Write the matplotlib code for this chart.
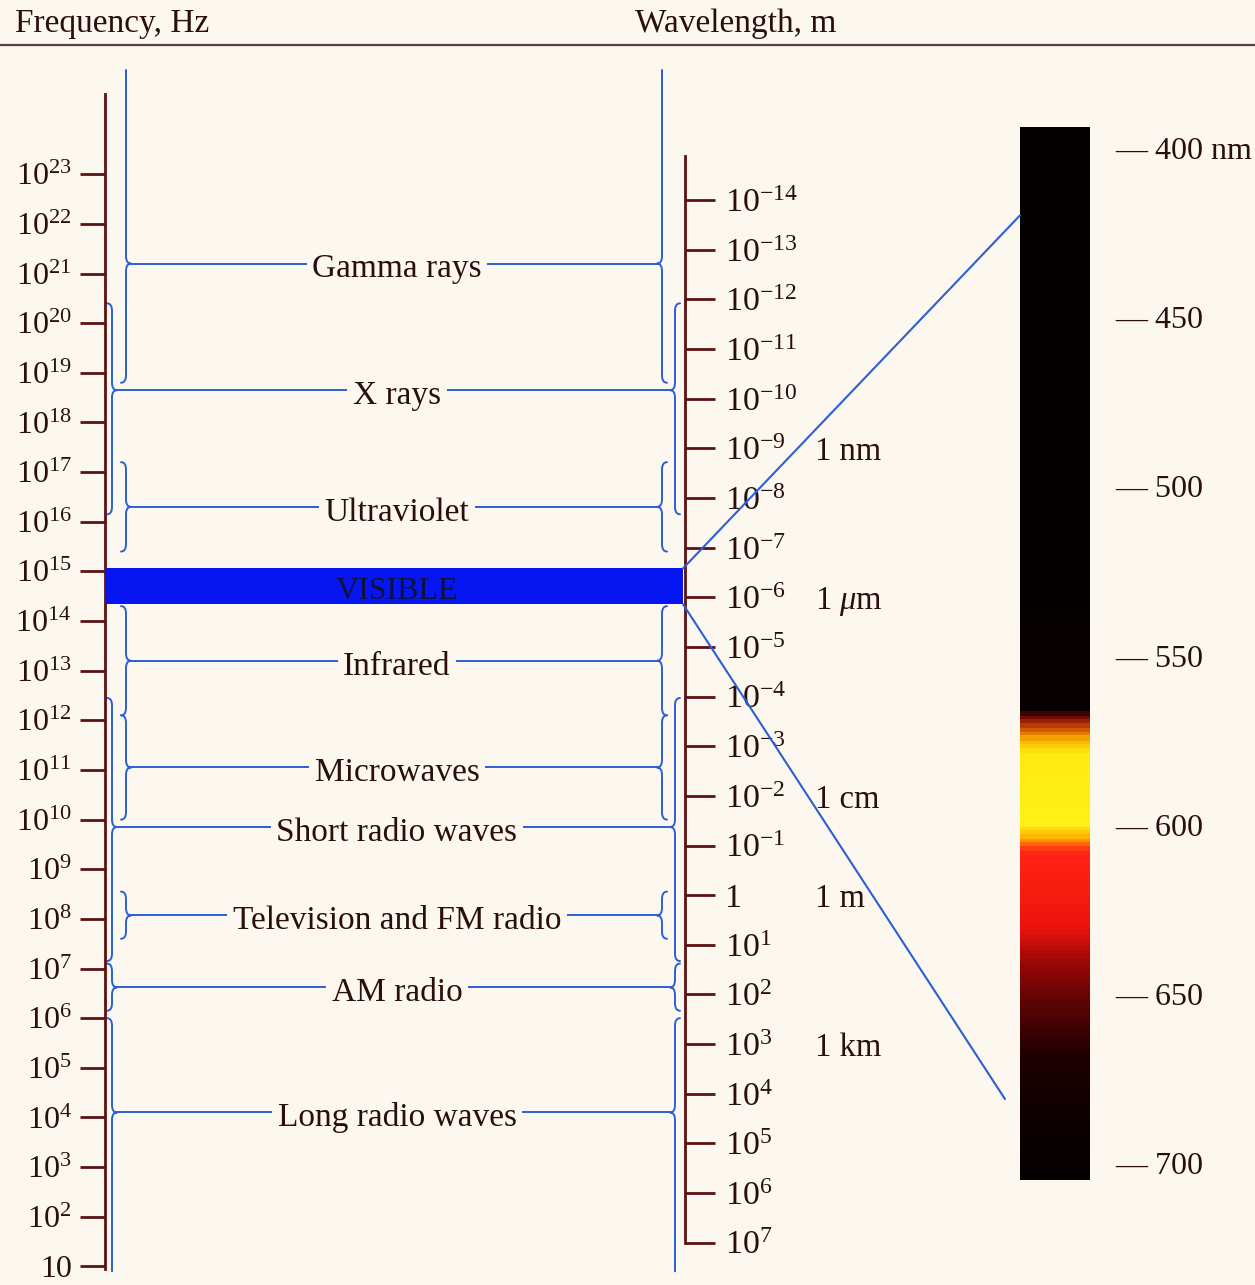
import numpy as np
import matplotlib
matplotlib.use('Agg')
import matplotlib.pyplot as plt
from matplotlib.path import Path
from matplotlib.patches import PathPatch, ConnectionPatch
from matplotlib.colors import LinearSegmentedColormap, Normalize
from matplotlib.ticker import FixedLocator, FuncFormatter, NullLocator
from matplotlib.transforms import blended_transform_factory
from matplotlib.lines import Line2D

plt.rcParams['font.family'] = ['Liberation Serif', 'DejaVu Serif']
plt.rcParams['mathtext.fontset'] = 'custom'
plt.rcParams['mathtext.rm'] = 'Liberation Serif'
plt.rcParams['mathtext.it'] = 'Liberation Serif:italic'
plt.rcParams['mathtext.bf'] = 'Liberation Serif:bold'

# scales: exponents of Hz on the left, exponents of metres on the right
freq_exp = list(range(1, 24))
wave_exp = list(range(-14, 8))
C_LIGHT = 3e8

wave_names = ['1 nm', r'1 $\mathit{\mu}$m', '1 cm', '1 m', '1 km']
wave_named_m = [1e-9, 1e-6, 1e-2, 1.0, 1e3]

# bands, log10(Hz): lower edge, upper edge, where the label line sits
bands = ['Gamma rays', 'X rays', 'Ultraviolet', 'Infrared', 'Microwaves',
         'Short radio waves', 'Television and FM radio', 'AM radio',
         'Long radio waves']
band_lo = [18.8, 16.15, 15.4, 12.1, 10.0, 7.15, 7.6, 6.15, 0.9]
band_hi = [25.1, 20.4, 17.2, 14.3, 12.1, 12.45, 8.55, 7.1, 6.0]
band_label = [21.2, 18.65, 16.3, 13.2, 11.05, 9.85, 8.07, 6.62, 4.1]
band_inner = [False, True, False, False, False, True, False, True, True]
visible_lo, visible_hi = 14.34, 15.06

# visible strip, wavelength in nm
strip_nm = [400, 450, 500, 550, 600, 650, 700]
strip_stops = [393.9, 566.0, 568.5, 571.5, 575.0, 579.0, 600.0, 604.0,
               608.0, 630.0, 640.0, 652.0, 669.0, 704.9]
strip_colors = ['#030000', '#060000', '#7a0c02', '#d04a08', '#f5b400',
                '#ffea10', '#fff018', '#ffb000', '#ff2414', '#ee140c',
                '#a00806', '#600404', '#1c0000', '#030000']
link_nm = [420, 681]

PAPER = '#fcf8ef'
BLUE = '#2c5fd4'
VIS_BLUE = '#0516f0'
AXIS = '#5b1212'
TEXT = '#2b0f0f'

fig = plt.figure(figsize=(12.55, 12.85), dpi=100, facecolor=PAPER)
ax = fig.add_axes([0, 0, 1, 1])
ax.set_facecolor(PAPER)
ax.set_xlim(0, 1255)
ax.set_yscale('log')
ax.set_ylim(10**0.625, 10**26.51)

for s in ['top', 'right', 'bottom']:
    ax.spines[s].set_visible(False)
ax.spines['left'].set_position(('data', 105))
ax.spines['left'].set_bounds(10**0.94, 10**24.61)
ax.spines['left'].set_color(AXIS)
ax.spines['left'].set_linewidth(2)
ax.set_xticks([])


def freq_fmt(v, pos):
    n = int(round(np.log10(v)))
    return '10' if n == 1 else r'$\mathregular{10^{%d}}$' % n


def wave_fmt(v, pos):
    n = int(round(np.log10(v)))
    return '1' if n == 0 else r'$\mathregular{10^{%d}}$' % n


ax.yaxis.set_major_locator(FixedLocator([10.0**n for n in freq_exp]))
ax.yaxis.set_major_formatter(FuncFormatter(freq_fmt))
ax.yaxis.set_minor_locator(NullLocator())
ax.tick_params(axis='y', direction='out', length=18, width=2, color=AXIS,
               labelsize=23, labelcolor=TEXT, pad=6)


def hz_m(v):
    with np.errstate(divide='ignore'):
        return C_LIGHT / np.asarray(v, dtype=float)


sec = ax.secondary_yaxis(685 / 1255, functions=(hz_m, hz_m))
sec.yaxis.set_major_locator(FixedLocator([10.0**n for n in wave_exp]))
sec.yaxis.set_major_formatter(FuncFormatter(wave_fmt))
sec.yaxis.set_minor_locator(NullLocator())
sec.tick_params(axis='y', direction='out', length=21.5, width=2, color=AXIS,
                labelsize=24.5, labelcolor=TEXT, pad=7)
for s in ['left', 'right']:
    sec.spines[s].set_bounds(10**-14.9, 1e7)
    sec.spines[s].set_color(AXIS)
    sec.spines[s].set_linewidth(2)

for name, m in zip(wave_names, wave_named_m):
    ax.text(815, C_LIGHT / m, name, ha='left', va='center_baseline',
            fontsize=23.5, color=TEXT)


def brace(x0, d, lo, hi, tip, open_top=False, open_bot=False, c=5, e=0.15):
    pts, codes = [], []
    if open_top:
        pts += [(x0, hi)]
        codes += [Path.MOVETO]
    else:
        pts += [(x0 - d * c, hi), (x0, hi), (x0, hi - e)]
        codes += [Path.MOVETO, Path.CURVE3, Path.CURVE3]
    pts += [(x0, tip + e), (x0, tip), (x0 + d * c, tip), (x0, tip), (x0, tip - e)]
    codes += [Path.LINETO, Path.CURVE3, Path.CURVE3, Path.CURVE3, Path.CURVE3]
    pts += [(x0, lo + e)]
    codes += [Path.LINETO]
    if open_bot:
        pts += [(x0, lo)]
        codes += [Path.LINETO]
    else:
        pts += [(x0, lo), (x0 - d * c, lo)]
        codes += [Path.CURVE3, Path.CURVE3]
    verts = [(x, 10**u) for x, u in pts]
    ax.add_patch(PathPatch(Path(verts, codes), fill=False, ec=BLUE, lw=1.4,
                           capstyle='round', joinstyle='round'))


for name, lo, hi, u, inner in zip(bands, band_lo, band_hi, band_label, band_inner):
    xl = 112 if inner else 126
    xr = 675 if inner else 662
    top_open = hi == max(band_hi)
    bot_open = lo == min(band_lo)
    brace(xl, 1, lo, hi, u, top_open, bot_open)
    brace(xr, -1, lo, hi, u, top_open, bot_open)
    ax.plot([xl + 5, xr - 5], [10**u, 10**u], color=BLUE, lw=1.4)
    ax.annotate(name, (397, 10**u), xytext=(0, -10), textcoords='offset points',
                ha='center', va='baseline', fontsize=24, color=TEXT,
                bbox=dict(fc=PAPER, ec='none', pad=4))

ax.fill_between([105, 683], 10**visible_lo, 10**visible_hi, color=VIS_BLUE,
                lw=0, zorder=3)
ax.annotate('VISIBLE', (397, 10**((visible_lo + visible_hi) / 2)), xytext=(0, -9),
            textcoords='offset points', ha='center', va='baseline',
            fontsize=23, color='#101040', zorder=4)

# visible strip on the right
sax = fig.add_axes([1020 / 1255, 105 / 1285, 70 / 1255, 1053 / 1285])
pos = (np.array(strip_stops) - strip_stops[0]) / (strip_stops[-1] - strip_stops[0])
cmap = LinearSegmentedColormap.from_list('strip', list(zip(pos, strip_colors)))
edges = np.linspace(strip_stops[0], strip_stops[-1], 600)
centers = (edges[:-1] + edges[1:]) / 2
sax.pcolormesh([0, 1], edges, centers[:, None], cmap=cmap,
               norm=Normalize(strip_stops[0], strip_stops[-1]), shading='flat')
sax.set_xlim(0, 1)
sax.set_ylim(strip_stops[-1], strip_stops[0])
sax.set_xticks([])
sax.yaxis.tick_right()
sax.set_yticks(strip_nm)
sax.set_yticklabels(['\u2014 %d nm' % strip_nm[0]] + ['\u2014 %d' % v for v in strip_nm[1:]])
sax.tick_params(axis='y', length=0, pad=18, labelsize=23, labelcolor=TEXT)
for s in sax.spines.values():
    s.set_visible(False)

strip_tf = blended_transform_factory(sax.transAxes, sax.transData)
for f_exp, nm, xb in zip([visible_hi, visible_lo], link_nm, [0, -15 / 70]):
    con = ConnectionPatch(xyA=(683, 10**f_exp), coordsA=ax.transData,
                          xyB=(xb, nm), coordsB=strip_tf, color=BLUE, lw=1.5)
    fig.add_artist(con)

# header
fig.text(15 / 1255, 1 - 32 / 1285, 'Frequency, Hz', va='baseline', fontsize=24, color=TEXT)
fig.text(635 / 1255, 1 - 32 / 1285, 'Wavelength, m', va='baseline', fontsize=24, color=TEXT)
fig.add_artist(Line2D([0, 1], [1 - 45 / 1285] * 2, color='#5a4040', lw=1.6))

fig.savefig('out.png', dpi=100, facecolor=PAPER)
